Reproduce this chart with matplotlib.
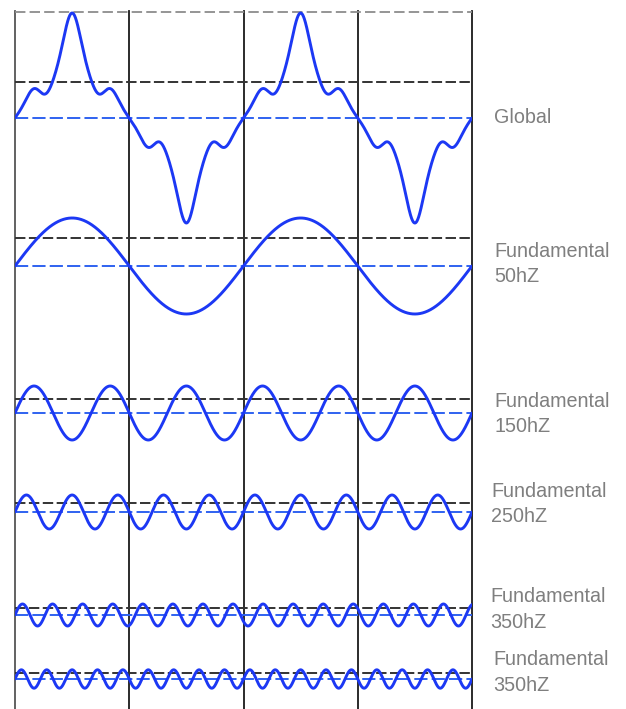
import numpy as np
import matplotlib.pyplot as plt

plt.rcParams['lines.scale_dashes'] = False

# labels on the right of each row
labels = ['Global', 'Fundamental\n50hZ', 'Fundamental\n150hZ',
          'Fundamental\n250hZ', 'Fundamental\n350hZ', 'Fundamental\n350hZ']

# global wave = sum of odd harmonics of 50 Hz (amplitudes)
global_orders = [1, 3, 5, 7, 9, 11, 13]
global_amps = [64.4, -16.0, 17.3, -5.6, -0.6, -1.5, 0.8]

# single components: cycles per 50 Hz period and amplitude
comp_cycles = [1, 3, 5, 7.6, 9]
comp_amps = [48, 27, 17, 11, 9.2]

# black dashed level above each baseline, and the global peak line
ref_levels = [36, 28, 14, 9.5, 7.5, 6.5]
global_peak = 106

## layout (pixels)
W, H = 626, 709
baselines = [118, 266, 413, 512, 615, 679]
text_y = [(123, None), (257, 282), (407, 432), (497, 522), (602, 628), (665, 691)]
text_x = [494, 494, 494, 491, 490, 493]

fig = plt.figure(figsize=(W/100, H/100), dpi=100)
ax = fig.add_axes([15/W, 0, 457/W, 1])
ax.set_xlim(0, 40)
ax.set_ylim(H, 0)
ax.axis('off')

def px2ms(x):
    return (x - 15) * 40 / 457

t = np.linspace(0, 40, 3000)   # ms
th = 2*np.pi*50*t/1000

blue = '#1c38f4'
dblue = '#2f62f0'
dark = '#333333'

# global wave
g = sum(a*np.sin(n*th) for n, a in zip(global_orders, global_amps))
rows = [g] + [a*np.sin(c*th) for c, a in zip(comp_cycles, comp_amps)]

# top gray line at the global peak
ax.plot([0, 40], [baselines[0]-global_peak]*2, color='#8c8c8c', lw=1.3, dashes=(7.5, 3))

for i, y in enumerate(rows):
    b = baselines[i]
    ax.plot([0, 40], [b-ref_levels[i]]*2, color=dark, lw=1.4, dashes=(7.5, 2.5), zorder=2)
    ax.plot([0, 40], [b, b], color=dblue, lw=1.4, dashes=(9.5, 3), zorder=2)
    ax.plot(t, b - y, color=blue, lw=2.1, zorder=3, solid_capstyle='round')

# vertical lines every half period
for k, tv in enumerate([0, 10, 20, 30, 40]):
    ax.plot([tv, tv], [11, H], color='#555555' if k == 0 else '#1a1a1a', lw=1.3, clip_on=False, zorder=1)

for lab, (y1, y2), x in zip(labels, text_y, text_x):
    parts = lab.split('\n')
    ax.text(px2ms(x), y1, parts[0], fontsize=14.2, color='#7f7f7f', family='Liberation Sans', va='baseline', ha='left')
    if y2 is not None:
        ax.text(px2ms(x), y2, parts[1], fontsize=14.2, color='#7f7f7f', family='Liberation Sans', va='baseline', ha='left')

fig.savefig('out.png', dpi=100)
